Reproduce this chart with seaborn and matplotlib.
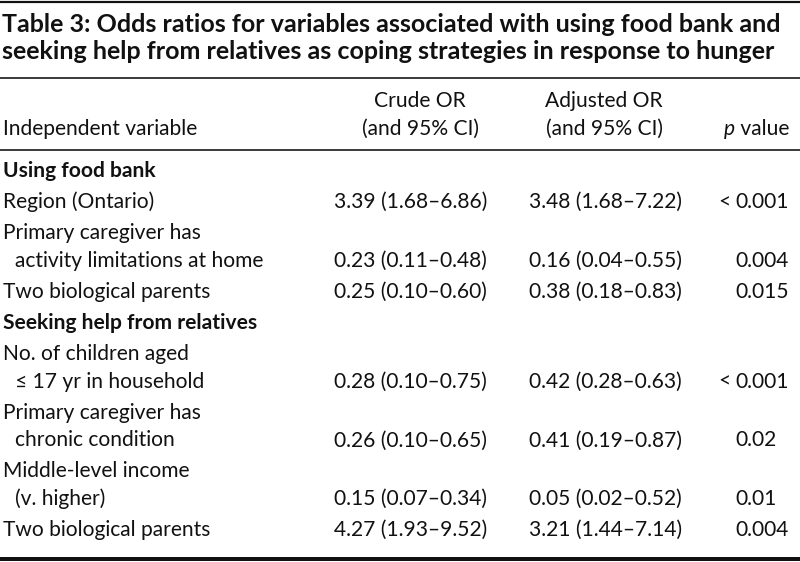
import matplotlib
matplotlib.use("Agg")
import matplotlib.pyplot as plt
from matplotlib import font_manager
import seaborn as sns

# ---------------- data ----------------
title_lines = [
    "Table 3: Odds ratios for variables associated with using food bank and",
    "seeking help from relatives as coping strategies in response to hunger",
]
col_headers = ["Independent variable", ["Crude OR", "(and 95% CI)"],
               ["Adjusted OR", "(and 95% CI)"], "value"]
sections = ["Using food bank", "Seeking help from relatives"]
section_of_row = [0, 0, 0, 1, 1, 1, 1]
variables = [
    ["Region (Ontario)"],
    ["Primary caregiver has", "activity limitations at home"],
    ["Two biological parents"],
    ["No. of children aged", "\u2264 17 yr in household"],
    ["Primary caregiver has", "chronic condition"],
    ["Middle-level income", "(v. higher)"],
    ["Two biological parents"],
]
crude_or = [3.39, 0.23, 0.25, 0.28, 0.26, 0.15, 4.27]
crude_lo = [1.68, 0.11, 0.10, 0.10, 0.10, 0.07, 1.93]
crude_hi = [6.86, 0.48, 0.60, 0.75, 0.65, 0.34, 9.52]
adj_or = [3.48, 0.16, 0.38, 0.42, 0.41, 0.05, 3.21]
adj_lo = [1.68, 0.04, 0.18, 0.28, 0.19, 0.02, 1.44]
adj_hi = [7.22, 0.55, 0.83, 0.63, 0.87, 0.52, 7.14]
p_values = ["< 0.001", "0.004", "0.015", "< 0.001", "0.02", "0.01", "0.004"]

# ---------------- style ----------------
sns.set_theme(style="white")
installed = {f.name for f in font_manager.fontManager.ttflist}
BODY = ["Lato", "DejaVu Sans"]
TITLE = (["Liberation Sans Narrow"] if "Liberation Sans Narrow" in installed else []) + ["Lato", "DejaVu Sans"]
plt.rcParams["font.family"] = BODY

W, H = 800, 562
fig = plt.figure(figsize=(W / 100, H / 100), dpi=100)
ax = fig.add_axes([0, 0, 1, 1])
ax.set_xlim(0, W)
ax.set_ylim(H, 0)
ax.axis("off")
renderer = fig.canvas.get_renderer()


def px_width(s, size, **kw):
    t = ax.text(0, 0, s, fontsize=size, **kw)
    w = t.get_window_extent(renderer).width
    t.remove()
    return w


def fit(s, target, **kw):
    return 12 * target / px_width(s, 12, **kw)


body_size = fit("Independent variable", 194, family=BODY)
title_size = fit(title_lines[0], 795, family=TITLE, weight="bold")
title_size2 = fit(title_lines[1], 768, family=TITLE, weight="bold")
title_size = min(title_size, title_size2)

ink = "#111111"

# rules
def rule(y, lw_px):
    ax.axhline(y, color=ink, lw=lw_px * 0.72, xmin=0, xmax=1)

rule(1.5, 2.2)
rule(78, 1.6)
rule(149.5, 1.6)
rule(558.5, 4)

# title
for i, line in enumerate(title_lines):
    ax.text(2, 32 + 27 * i, line, fontsize=title_size, weight="bold",
            family=TITLE, color=ink, va="baseline", ha="left")

# headers
X_LABEL, X_INDENT = 3, 15
X_CRUDE_C, X_ADJ_C = 420, 604
X_CRUDE_L, X_ADJ_L = 334, 529
X_P = 735
ax.text(X_LABEL, 135, col_headers[0], fontsize=body_size, color=ink, va="baseline")
for xc, hdr in [(X_CRUDE_C, col_headers[1]), (X_ADJ_C, col_headers[2])]:
    ax.text(xc, 107, hdr[0], fontsize=body_size, color=ink, va="baseline", ha="center")
    ax.text(xc, 135, hdr[1], fontsize=body_size, color=ink, va="baseline", ha="center")
ax.text(789, 135, " " + col_headers[3], fontsize=body_size, color=ink,
        va="baseline", ha="right")
vw = px_width(" " + col_headers[3], body_size)
ax.text(789 - vw, 135, "p", fontsize=body_size, color=ink, va="baseline",
        ha="right", style="italic")

# body
LINE_H, GAP = 27.8, 3.2
y = 177
prev_section = None
first = True
for i, lines in enumerate(variables):
    sec = section_of_row[i]
    if sec != prev_section:
        if not first:
            y += LINE_H + GAP
        ax.text(X_LABEL, y, sections[sec], fontsize=body_size, weight="bold",
                color=ink, va="baseline")
        prev_section = sec
        first = False
    y += LINE_H + GAP
    for j, ln in enumerate(lines):
        if j > 0:
            y += LINE_H
        ax.text(X_LABEL if j == 0 else X_INDENT, y, ln, fontsize=body_size,
                color=ink, va="baseline")
    crude = f"{crude_or[i]:.2f} ({crude_lo[i]:.2f}\u2013{crude_hi[i]:.2f})"
    adj = f"{adj_or[i]:.2f} ({adj_lo[i]:.2f}\u2013{adj_hi[i]:.2f})"
    ax.text(X_CRUDE_L, y, crude, fontsize=body_size, color=ink, va="baseline")
    ax.text(X_ADJ_L, y, adj, fontsize=body_size, color=ink, va="baseline")
    p = p_values[i]
    if p.startswith("<"):
        ax.text(X_P - 5, y, "<", fontsize=body_size, color=ink, va="baseline", ha="right")
        p = p[1:].strip()
    ax.text(X_P, y, p, fontsize=body_size, color=ink, va="baseline")

fig.savefig("out.png", dpi=100, facecolor="white")
